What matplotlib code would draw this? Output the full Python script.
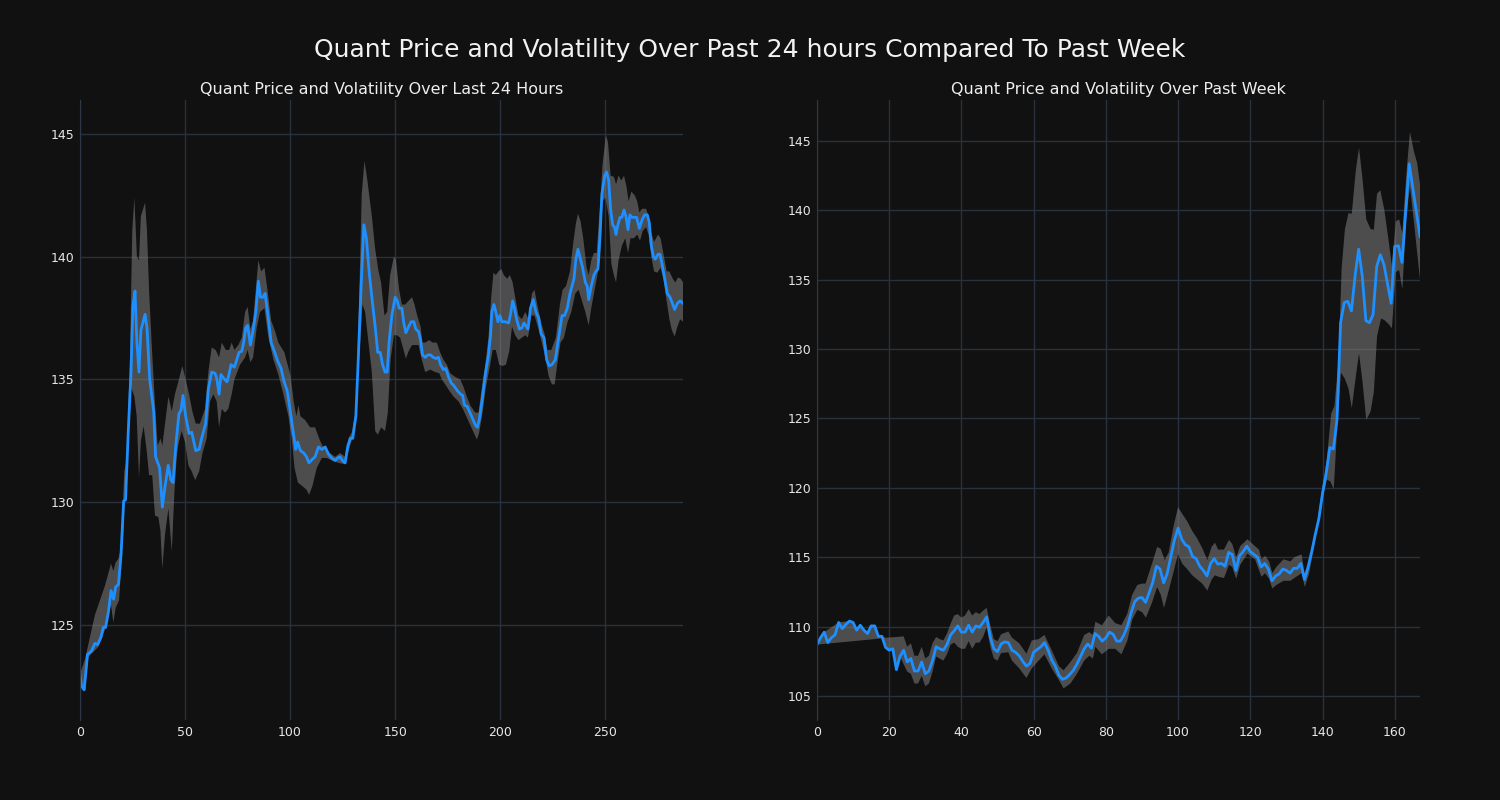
import numpy as np
import matplotlib
matplotlib.use('Agg')
from matplotlib import pyplot as plt
from matplotlib import rcParams

rcParams['font.family'] = 'DejaVu Sans'

bg = '#111111'
grid_col = '#28313d'
line_col = '#1e8fff'
band_col = '#8a8a8a'

# ---- last 24 hours (5 minute steps) ----
day_x = [0, 0.8, 2, 3.6, 5.6, 7.1, 8.4, 10, 11.1, 12.2, 13.5, 14.8, 16, 17, 18.3, 19.5, 20.8, 21.7, 23, 24.3,
         25.2, 26.2, 27.1, 28.1, 29, 31, 31.9, 33.2, 35.1, 36, 37.9, 39.2, 40.5, 42, 43.3, 44.3, 45.6, 47.1, 48.1, 49,
         50.3, 51.9, 53.2, 55.1, 56.7, 57.9, 59.8, 61.1, 62.7, 64.3, 65.2, 66.2, 67.1, 68.4, 70, 70.9, 71.9, 73.5,
         75.7, 77, 77.9, 78.9, 79.8, 81.1, 82.4, 83.7, 84.9, 85.9, 87.1, 88.1, 89.4, 91, 92.5, 94.1, 95.7, 97, 98.6,
         100.2, 101.4, 102.7, 103.6, 104.9, 106.5, 107.8, 109, 110.6, 111.9, 113.5, 115.1, 116.7, 118.3, 119.8,
         121.4, 122.7, 123.8, 124.9, 126.2, 127.5, 128.7, 129.8, 131.3, 132.5, 133.8, 135.1, 136.3, 137.6, 138.9,
         140.5, 141.7, 142.9, 144, 145.2, 146.2, 147.1, 148.4, 150, 151, 151.9, 153.2, 154.1, 155.1, 156.4, 157.6,
         158.9, 159.8, 161.1, 162.1, 163, 164.3, 165.6, 166.8, 168.1, 169.4, 170.6, 171.6, 172.9, 174.1, 175.4,
         176.7, 177.9, 179.5, 181.1, 182.1, 183, 184.3, 185.6, 187.1, 188.1, 189.1, 190, 191.3, 192.9, 194.4, 195.4,
         196, 197, 197.9, 198.9, 199.8, 200.8, 202.4, 204, 204.9, 205.9, 206.8, 207.8, 209.1, 210.3, 211.3, 213.2,
         214.4, 215.7, 217, 218.3, 219.5, 220.8, 222.1, 223.3, 224.6, 226.2, 227.8, 229.4, 230.6, 231.9, 233.2,
         235.1, 236, 237, 237.9, 239.2, 240.5, 241.4, 242.1, 243.3, 244.6, 245.5, 246.5, 247.5, 248.4, 249.7, 250.6,
         251.6, 252.5, 253.5, 254.4, 255.1, 256, 257, 257.9, 258.9, 259.8, 260.8, 261.7, 262.7, 263.6, 264.9, 266.2,
         267.5, 268.7, 270, 270.9, 271.9, 272.9, 273.8, 275.1, 276, 277, 278.3, 279.5, 280.8, 282.1, 283, 284.3,
         285.6, 287]
day_price = [122.96, 122.5, 122.36, 123.8, 123.95, 124.25, 124.2, 124.5, 124.9, 124.9, 125.5, 126.4, 126.05, 126.55,
             126.65, 127.8, 130.05, 130.1, 132.9, 135.3, 138.0, 138.6, 136.5, 135.3, 137.0, 137.65, 137.1, 135.0,
             133.7, 131.85, 131.4, 129.8, 130.65, 131.5, 130.9, 130.8, 132.3, 133.6, 133.75, 134.35, 133.5, 132.8,
             132.85, 132.1, 132.15, 132.6, 133.2, 134.6, 135.3, 135.25, 135.0, 134.4, 135.2, 135.05, 134.9, 135.2,
             135.6, 135.5, 136.1, 136.15, 136.5, 137.1, 137.2, 136.4, 137.0, 137.75, 139.0, 138.35, 138.35, 138.5,
             137.65, 136.5, 136.15, 135.75, 135.45, 134.95, 134.55, 133.65, 132.9, 132.15, 132.45, 132.1, 132.0,
             131.85, 131.6, 131.75, 131.85, 132.25, 132.15, 132.25, 131.95, 131.8, 131.7, 131.8, 131.85, 131.7,
             131.6, 132.3, 132.6, 132.6, 133.5, 135.95, 138.8, 141.3, 140.75, 139.4, 138.35, 137.15, 136.1, 136.1,
             135.6, 135.3, 135.3, 136.5, 137.6, 138.35, 138.2, 137.9, 137.9, 137.3, 136.9, 137.15, 137.35, 137.35,
             137.05, 136.95, 136.6, 136.0, 135.9, 136.0, 136.0, 135.9, 135.85, 135.9, 135.6, 135.4, 135.45, 135.1,
             134.85, 134.75, 134.55, 134.4, 134.35, 133.95, 133.9, 133.65, 133.35, 133.15, 133.05, 133.35, 134.1,
             135.2, 136.0, 136.8, 137.75, 138.05, 137.75, 137.35, 137.6, 137.35, 137.35, 137.3, 137.65, 138.2, 137.9,
             137.45, 137.05, 137.1, 137.3, 137.05, 137.9, 138.25, 137.75, 137.5, 136.85, 136.7, 135.8, 135.55, 135.6,
             135.8, 136.7, 137.6, 137.6, 137.9, 138.5, 139.1, 139.9, 140.3, 140.0, 139.55, 138.95, 138.8, 138.25,
             138.8, 139.25, 139.4, 139.5, 140.9, 142.55, 143.3, 143.45, 143.1, 141.95, 141.3, 141.2, 140.9, 141.3,
             141.6, 141.6, 141.9, 141.65, 141.1, 141.7, 141.6, 141.6, 141.6, 141.15, 141.5, 141.7, 141.7, 141.4,
             140.45, 140.0, 139.9, 140.1, 140.1, 139.7, 139.1, 138.5, 138.35, 138.05, 137.85, 138.1, 138.2, 138.1]

day_hi_x = [0, 2.4, 7.1, 11.9, 14.8, 15.9, 17, 18.3, 19.5, 21.1, 22.2, 23.8, 24.9, 25.9, 27.1, 28.1, 29, 31, 31.9,
            32.9, 34.1, 35.7, 37, 38.3, 39.2, 40.5, 42.1, 43.7, 45.2, 47.1, 48.7, 50.3, 51.9, 53.5, 55.1, 57.1, 59.5,
            61.1, 62.7, 64.6, 66.2, 67.5, 69.4, 71, 72.2, 73.5, 75.4, 77, 78.6, 79.8, 81.1, 82.4, 84.9, 86.2, 87.8,
            89, 91, 92.9, 94.4, 97.3, 100.2, 101.7, 103, 104, 104.9, 107.1, 109.5, 111.9, 113.8, 115.4, 117.5, 119.8,
            121.4, 123.8, 126.2, 127.8, 129.4, 131.3, 132.9, 134.1, 135.4, 136.7, 138.9, 140.5, 142.1, 143.3, 144.9,
            146.2, 147.6, 149.4, 150.3, 151.9, 153.2, 154.8, 156.4, 158, 159.2, 160.5, 162.1, 163, 164.3, 166.2,
            167.8, 169.8, 171.4, 173, 174.6, 176.2, 178.6, 181, 182.5, 184.1, 185.7, 188.1, 189.7, 191.3, 192.9,
            194.4, 195.7, 196.8, 197.9, 199.2, 200.5, 201.7, 203.3, 204.6, 205.9, 207.1, 208.7, 210.3, 211.9, 213.5,
            215.1, 216.3, 217.6, 219.5, 221.1, 222.4, 224.3, 226.5, 228.4, 229.7, 231.3, 233.2, 234.8, 236, 237,
            238.2, 239.5, 241.1, 242.1, 243.3, 244.6, 245.9, 247.5, 248.7, 250.3, 251.3, 252.5, 254.1, 255.1, 256.3,
            257.6, 258.9, 260.1, 261.1, 262.4, 264, 265.2, 266.2, 267.5, 269.4, 270.6, 271.6, 273.2, 275.1, 276.3,
            277.6, 279.2, 280.5, 282.1, 283.3, 284.6, 285.9, 287]
day_hi = [123.0, 123.6, 125.4, 126.6, 127.5, 127.2, 127.55, 127.7, 128.1, 131.25, 131.7, 135.9, 141.05, 142.4, 140.0,
          139.85, 141.65, 142.2, 141.05, 138.6, 136.5, 134.0, 132.3, 132.6, 132.3, 133.2, 134.3, 133.7, 134.4, 135.0,
          135.55, 135.0, 134.4, 133.7, 133.2, 133.2, 133.8, 135.3, 136.3, 136.2, 135.9, 136.5, 136.2, 136.2, 136.5,
          136.2, 136.4, 136.7, 137.75, 137.95, 137.05, 137.4, 139.85, 139.4, 139.55, 138.8, 137.4, 136.95, 136.5,
          136.1, 135.15, 134.1, 133.5, 133.95, 133.5, 133.35, 133.05, 133.05, 132.6, 132.3, 132.1, 131.95, 131.85,
          132.0, 131.85, 132.6, 132.85, 133.8, 138.35, 142.55, 143.9, 143.15, 141.65, 140.3, 139.4, 138.95, 137.6,
          137.75, 139.25, 140.0, 139.9, 138.65, 138.05, 138.05, 138.2, 138.35, 138.05, 137.6, 137.15, 136.5, 136.5,
          136.6, 136.5, 136.5, 136.1, 135.8, 135.6, 135.25, 135.1, 135.0, 134.7, 134.3, 133.95, 133.65, 133.65,
          134.7, 135.6, 136.7, 138.35, 139.35, 139.25, 139.4, 139.5, 139.25, 139.1, 139.25, 138.95, 138.35, 137.6,
          137.45, 137.75, 137.45, 138.5, 138.65, 138.05, 137.3, 136.85, 136.2, 136.2, 136.7, 138.05, 138.65, 138.8,
          139.4, 140.6, 141.35, 141.75, 141.45, 140.75, 139.55, 139.25, 139.85, 140.15, 140.15, 142.1, 143.75,
          144.95, 144.65, 143.3, 143.25, 142.95, 143.3, 143.1, 143.3, 142.85, 142.25, 142.65, 142.5, 142.25, 141.8,
          141.95, 141.95, 141.65, 141.05, 140.6, 140.9, 140.75, 140.15, 139.4, 139.4, 139.1, 138.95, 139.15, 139.1,
          138.95]

day_lo_x = [0, 2.4, 4, 8.7, 11.9, 13.5, 14.8, 15.9, 17, 18.6, 19.8, 20.8, 21.7, 23, 24.3, 25.9, 27, 28.1, 29, 30.3,
            31.7, 32.9, 34.4, 35.7, 37.3, 38.3, 39.2, 40.5, 42.1, 43.7, 45, 46.2, 47.1, 48.4, 50, 51.6, 53.2, 54.8,
            56.7, 58.3, 60.3, 61.9, 63.5, 65.1, 66.2, 67.5, 69, 70.6, 72.2, 73.5, 76.2, 78.6, 79.8, 81.1, 82.4, 84.1,
            85.7, 87.8, 89.7, 92.1, 94.4, 96.8, 99.2, 100.8, 102.1, 103.7, 105.9, 107.9, 109, 110.6, 112.7, 115.1,
            117.5, 119.8, 123, 125.9, 127.5, 129.1, 130.9, 132.5, 134.4, 135.7, 137.3, 138.9, 140.5, 141.8, 143.3,
            145.2, 146.5, 147.8, 149.4, 150.8, 152.4, 154, 155.1, 156.4, 158, 159.5, 161.1, 162.7, 164.3, 166.7,
            169.1, 171, 172.2, 173.8, 175.7, 177.8, 180.2, 182.5, 184.9, 187.3, 188.9, 190, 191.6, 193.2, 195.2,
            196.4, 197.9, 199.5, 201.1, 202.7, 204.3, 205.6, 207.1, 208.7, 210.3, 211.9, 213.2, 214.8, 216.3, 217.9,
            219.8, 221.4, 223, 224.6, 225.9, 227.1, 228.7, 230.3, 231.9, 233.8, 235.7, 237.3, 238.9, 240.5, 242.1,
            243.3, 244.6, 245.9, 247.5, 248.7, 250, 251.6, 252.9, 254.1, 255.1, 256.3, 257.9, 259.5, 260.8, 262,
            263.6, 265.2, 266.5, 267.8, 269.4, 270.6, 271.9, 273.2, 274.8, 276.3, 277.6, 279.2, 280.5, 281.7, 283,
            284.3, 285.6, 287]
day_lo = [122.8, 122.3, 123.7, 124.1, 124.8, 125.45, 125.8, 125.1, 125.7, 126.0, 127.5, 129.0, 131.25, 132.3, 134.7,
          134.3, 133.5, 131.0, 132.5, 133.1, 132.15, 131.1, 131.1, 129.45, 129.4, 128.85, 127.3, 128.7, 129.75,
          128.0, 130.5, 132.0, 132.45, 132.9, 132.45, 131.5, 131.25, 130.9, 131.25, 132.0, 132.6, 134.1, 134.4,
          134.1, 133.05, 133.8, 133.65, 133.8, 134.4, 135.0, 135.6, 135.9, 136.2, 135.7, 135.9, 137.1, 137.75,
          137.9, 136.7, 135.8, 135.2, 134.4, 133.5, 132.6, 131.4, 130.8, 130.65, 130.5, 130.3, 130.65, 131.4, 131.8,
          131.8, 131.7, 131.6, 131.55, 132.0, 132.45, 133.2, 135.3, 138.05, 137.75, 136.5, 135.3, 132.9, 132.75,
          133.05, 132.9, 133.65, 135.8, 136.8, 136.8, 136.7, 136.2, 135.85, 136.15, 136.4, 136.4, 136.4, 135.8,
          135.3, 135.4, 135.3, 135.25, 135.0, 134.8, 134.55, 134.3, 134.1, 133.75, 133.3, 132.85, 132.55, 132.85,
          133.65, 134.7, 135.6, 136.2, 136.2, 135.6, 135.55, 135.6, 136.15, 137.15, 136.8, 136.6, 136.7, 136.8,
          136.7, 137.6, 137.6, 137.15, 136.5, 135.9, 135.15, 134.8, 134.8, 135.6, 136.5, 136.7, 137.3, 137.75,
          138.5, 138.65, 138.2, 137.75, 137.2, 137.9, 138.5, 139.1, 139.85, 142.25, 142.4, 141.65, 139.7, 139.25,
          138.95, 139.85, 140.45, 140.75, 140.15, 140.75, 140.75, 140.9, 140.65, 141.05, 141.2, 140.9, 140.0, 139.4,
          139.35, 139.55, 139.1, 138.2, 137.45, 137.0, 136.75, 137.15, 137.45, 137.35]

# ---- past week (hourly) ----
week_price = [108.7, 109.2, 109.6, 108.85, 109.2, 109.4, 110.3, 109.85, 110.15, 110.4, 110.3, 109.75, 110.1, 109.75,
              109.5, 110.05, 110.05, 109.3, 109.3, 108.5, 108.3, 108.4, 106.9, 107.85, 108.3, 107.45, 107.7, 106.8,
              106.8, 107.45, 106.6, 106.8, 107.55, 108.55, 108.4, 108.3, 108.7, 109.4, 109.7, 110.05, 109.6, 109.6,
              110.1, 109.6, 110.05, 109.95, 110.3, 110.7, 109.25, 108.4, 108.2, 108.75, 108.9, 108.85, 108.3, 108.15,
              107.9, 107.5, 107.15, 107.35, 108.15, 108.35, 108.55, 108.85, 108.3, 107.6, 107.15, 106.5, 106.2, 106.3,
              106.55, 106.85, 107.3, 107.85, 108.4, 108.75, 108.45, 109.5, 109.3, 108.95, 109.2, 109.6, 109.45, 108.95,
              108.95, 109.4, 110.05, 111.0, 111.8, 112.05, 112.1, 111.75, 112.45, 113.2, 114.35, 114.15, 113.15,
              113.85, 115.05, 116.25, 117.1, 116.3, 115.9, 115.75, 115.05, 114.9, 114.35, 114.05, 113.65, 114.55,
              114.9, 114.5, 114.55, 114.35, 115.35, 115.2, 114.05, 115.1, 115.4, 115.8, 115.4, 115.2, 115.0, 114.3,
              114.55, 114.15, 113.3, 113.65, 113.8, 114.15, 114.05, 113.85, 114.2, 114.2, 114.55, 113.4, 114.3, 115.4,
              116.65, 117.8, 119.6, 121.0, 122.9, 122.8, 124.9, 131.9, 133.35, 133.45, 132.75, 135.25, 137.2, 135.25,
              132.05, 131.9, 132.5, 135.95, 136.8, 136.1, 134.7, 133.3, 137.4, 137.45, 136.25, 139.75, 143.35, 141.6,
              139.9, 138.1]

week_hi_x = [0, 2, 6, 9, 10, 11, 12, 13, 14, 15, 16, 17, 18, 19, 22, 24, 25, 26, 27, 28, 29, 30, 31, 32, 33, 34, 35,
             36, 37, 38, 39, 40, 41, 42, 43, 44, 45, 46, 47, 48, 49, 50, 51, 53, 54, 56, 58, 59.5, 61.4, 63, 65, 67,
             68.3, 70.2, 72, 74, 75.4, 76.4, 77.1, 78.9, 80.8, 82.6, 84.3, 85.9, 87.3, 88.7, 90, 91, 92.8, 94.2, 95.2,
             96.3, 97.4, 98.8, 100, 101.1, 102.5, 103.9, 105.3, 106.7, 108.1, 109.3, 110.2, 111.1, 112.7, 114.1, 115,
             116.1, 117.2, 119.2, 121.3, 122.4, 123.1, 124.1, 125.2, 126.1, 127.2, 129.2, 131.1, 132.2, 134.2, 135.1,
             136.3, 138.1, 140, 141.2, 142.4, 143.3, 144.4, 145.3, 146.2, 147.2, 148.1, 149.2, 150.1, 151.05, 152.1,
             153.3, 154.2, 155.1, 156, 157.1, 158.3, 159.2, 160.3, 161.2, 162.1, 163.2, 164.2, 165.3, 166.2, 167]
week_hi = [108.7, 109.6, 110.3, 110.4, 110.3, 109.75, 110.1, 109.75, 109.5, 110.05, 110.05, 109.3, 109.3, 109.2,
           109.25, 109.3, 108.55, 108.8, 107.9, 107.9, 108.55, 107.7, 107.9, 108.8, 109.25, 109.1, 109.0, 109.5, 110.2,
           110.8, 110.9, 110.65, 110.8, 111.25, 110.8, 111.05, 110.9, 111.15, 111.35, 110.1, 109.1, 108.95, 109.45,
           109.65, 109.2, 108.8, 108.05, 109.0, 109.1, 109.4, 108.3, 107.15, 106.85, 107.45, 108.1, 109.4, 109.6,
           109.4, 110.35, 110.1, 110.8, 110.25, 110.1, 110.9, 112.3, 113.0, 113.1, 113.1, 114.55, 115.75, 115.6,
           114.8, 115.35, 117.3, 118.6, 118.15, 117.6, 116.9, 116.35, 115.65, 114.8, 115.75, 116.05, 115.55, 115.55,
           116.25, 115.95, 115.0, 115.8, 116.3, 115.8, 115.55, 114.85, 115.1, 114.7, 113.85, 114.3, 114.85, 114.7,
           115.0, 115.2, 113.75, 114.55, 116.8, 120.15, 122.1, 125.35, 125.9, 129.1, 135.85, 138.65, 139.8, 139.75,
           142.85, 144.5, 142.3, 139.35, 138.65, 138.6, 141.2, 141.45, 140.05, 137.8, 136.0, 139.2, 139.35, 138.35,
           142.55, 145.65, 144.25, 143.4, 141.85]

week_lo_x = [0, 3, 6, 10, 14, 16, 17, 18, 19, 20, 21, 22, 23, 24, 25, 26, 27, 28, 29, 30, 31, 32, 33, 34, 35, 36, 37,
             38, 39, 40, 41, 42, 43, 44, 45, 46, 47, 48, 49, 50, 51, 53, 54, 56, 58, 59.5, 61.4, 63, 65, 67, 68.3,
             70.2, 72, 74, 75.4, 76.4, 77.1, 78.9, 80.8, 82.6, 84.3, 85.9, 87.3, 88.7, 90, 91.1, 92.8, 94.2, 95.2,
             96.1, 97.4, 98.8, 100, 101.1, 102.5, 103.9, 105.3, 106.7, 108.1, 109.3, 110.2, 111.1, 112.7, 114.1, 115,
             116.1, 117.2, 119.2, 121.3, 123.1, 124.1, 125.2, 126.1, 127.2, 129.2, 131.1, 132.2, 134.2, 135.1, 136.3,
             138.1, 140, 141.2, 142.2, 143.1, 144, 145.1, 146.2, 147.2, 148.1, 149.2, 150.1, 151.05, 152.1, 153.3,
             154.2, 155.1, 156.2, 157.1, 158.3, 159.2, 160.3, 161.2, 162.1, 163.2, 164.2, 165.3, 166.2, 167]
week_lo = [108.7, 108.78, 108.85, 108.95, 109.05, 109.1, 109.13, 109.15, 108.5, 108.3, 108.4, 106.9, 107.85, 107.3,
           106.75, 106.6, 105.9, 105.9, 106.45, 105.7, 105.9, 106.75, 107.85, 107.7, 107.55, 108.0, 108.7, 108.85,
           108.55, 108.4, 108.4, 108.95, 108.4, 108.85, 108.85, 109.25, 109.95, 108.55, 107.7, 107.55, 108.1, 108.15,
           107.55, 107.0, 106.3, 107.0, 107.55, 108.0, 107.0, 106.15, 105.55, 105.9, 106.6, 107.55, 107.9, 107.7,
           108.55, 108.0, 108.4, 108.4, 108.0, 108.95, 110.5, 111.2, 111.05, 110.65, 111.75, 112.85, 112.3, 111.35,
           112.6, 114.0, 115.25, 114.55, 114.15, 113.7, 113.4, 113.1, 112.6, 113.4, 113.7, 113.6, 113.5, 114.45,
           114.3, 113.45, 114.45, 115.25, 114.85, 113.6, 113.85, 113.45, 112.75, 113.0, 113.3, 113.3, 113.5, 113.85,
           112.85, 113.85, 116.4, 119.2, 120.6, 120.45, 119.9, 124.1, 128.3, 127.85, 127.15, 125.75, 128.0, 129.7,
           127.7, 124.9, 125.5, 126.9, 130.95, 132.2, 132.1, 131.8, 131.5, 135.55, 135.7, 134.3, 139.5, 141.75,
           139.2, 136.95, 135.0]

week_x = np.arange(len(week_price))

titles = ['Quant Price and Volatility Over Last 24 Hours', 'Quant Price and Volatility Over Past Week']
suptitle = 'Quant Price and Volatility Over Past 24 hours Compared To Past Week'

fig, axes = plt.subplots(1, 2, figsize=(15, 8), dpi=100, facecolor=bg)
fig.subplots_adjust(left=0.0533, right=0.9467, top=0.875, bottom=0.1, wspace=0.222)

panels = [
    (day_x, day_price, day_hi_x, day_hi, day_lo_x, day_lo, (0, 287), (121.13, 146.38), [0, 50, 100, 150, 200, 250],
     [125, 130, 135, 140, 145]),
    (week_x, week_price, week_hi_x, week_hi, week_lo_x, week_lo, (0, 167), (103.27, 147.95),
     [0, 20, 40, 60, 80, 100, 120, 140, 160], [105, 110, 115, 120, 125, 130, 135, 140, 145]),
]

for ax, (x, y, hx, hy, lx, ly, xl, yl, xt, yt), title in zip(axes, panels, titles):
    ax.set_facecolor(bg)
    ax.grid(True, color=grid_col, linewidth=1.0)
    ax.set_axisbelow(True)
    # volatility band drawn as one polygon: upper edge forward, lower edge back
    px = list(hx) + list(lx)[::-1]
    py = list(hy) + list(ly)[::-1]
    ax.fill(px, py, color=band_col, alpha=0.5, linewidth=0)
    ax.plot(x, y, color=line_col, linewidth=2)
    ax.set_xlim(*xl)
    ax.set_ylim(*yl)
    ax.set_xticks(xt)
    ax.set_yticks(yt)
    ax.tick_params(colors='#e6e6e6', labelsize=9, length=0, pad=4)
    for side in ['top', 'right', 'bottom']:
        ax.spines[side].set_visible(False)
    ax.spines['left'].set_color('#2d3846')
    ax.set_title(title, color='#eeeeee', fontsize=11.5, pad=4)

fig.suptitle(suptitle, color='#f2f2f2', fontsize=18, y=0.953)
fig.savefig('out.png', facecolor=bg)
